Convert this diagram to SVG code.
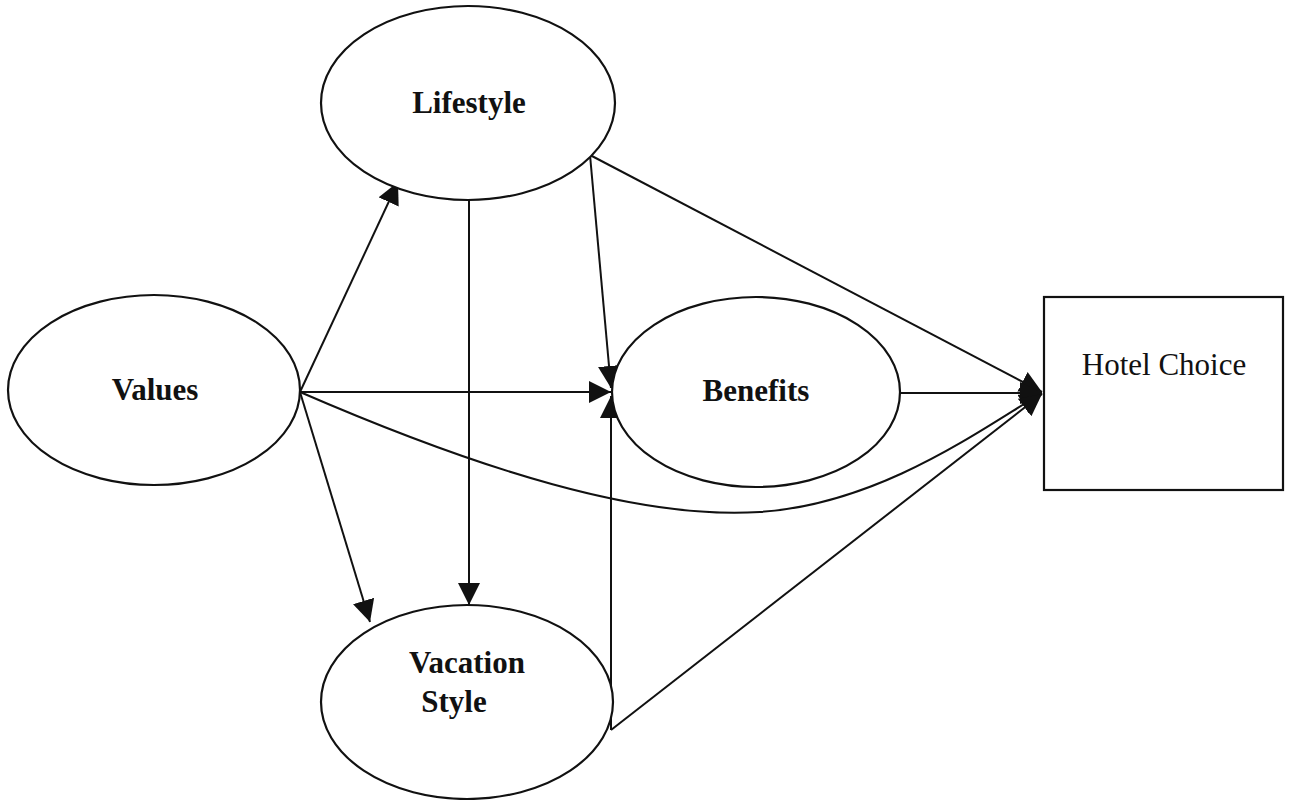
<svg xmlns="http://www.w3.org/2000/svg" width="1289" height="800" viewBox="0 0 1289 800">
<defs>
<style>
.node{fill:#fff;stroke:#111;stroke-width:2.2}
.lbl{font-family:"Liberation Serif","Times New Roman",serif;font-weight:bold;font-size:31px;fill:#111;text-anchor:middle}
.rl{font-family:"Liberation Serif","Times New Roman",serif;font-size:31px;fill:#111;text-anchor:middle}
.c{fill:none;stroke:#111;stroke-width:2}
</style>
<marker id="ahL" viewBox="0 0 10 10" refX="10" refY="5" markerWidth="22" markerHeight="22" markerUnits="userSpaceOnUse" orient="auto">
<path d="M0,0 L10,5 L0,10 z" fill="#111"/>
</marker>
</defs>
<rect width="1289" height="800" fill="#fff"/>
<g id="connectors">
<path class="c" d="M300,392 L398,182" marker-end="url(#ahL)"/>
<path class="c" d="M300,392 L611,392" marker-end="url(#ahL)"/>
<path class="c" d="M300,392 L370,622" marker-end="url(#ahL)"/>
<path class="c" d="M300,392 C480,470 640,520 760,512 C880,504 980,430 1042,393" marker-end="url(#ahL)"/>
<path class="c" d="M469,200 L469,605" marker-end="url(#ahL)"/>
<path class="c" d="M590,155 L611,388" marker-end="url(#ahL)"/>
<path class="c" d="M590,155 L1042,392" marker-end="url(#ahL)"/>
<path class="c" d="M900,393 L1042,393" marker-end="url(#ahL)"/>
<path class="c" d="M611,730 L611,396" marker-end="url(#ahL)"/>
<path class="c" d="M611,730 L1042,394" marker-end="url(#ahL)"/>
</g>
<g id="lifestyle">
<ellipse class="node" cx="468" cy="103" rx="147" ry="97"/>
<text class="lbl" x="469" y="113">Lifestyle</text>
</g>
<g id="values">
<ellipse class="node" cx="154" cy="390" rx="146" ry="95"/>
<text class="lbl" x="155" y="400">Values</text>
</g>
<g id="benefits">
<ellipse class="node" cx="756" cy="392" rx="144" ry="95"/>
<text class="lbl" x="756" y="401">Benefits</text>
</g>
<g id="vacation">
<ellipse class="node" cx="467" cy="702" rx="146" ry="97"/>
<text class="lbl" x="467" y="673">Vacation</text>
<text class="lbl" x="454" y="712">Style</text>
</g>
<g id="hotel">
<rect class="node" x="1044" y="297" width="239" height="193"/>
<text class="rl" x="1164" y="375">Hotel Choice</text>
</g>
</svg>
